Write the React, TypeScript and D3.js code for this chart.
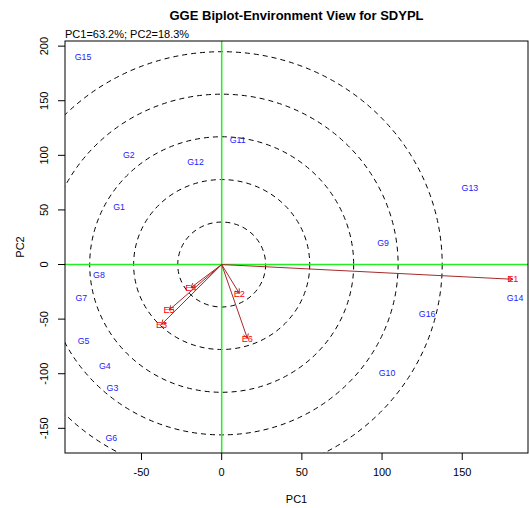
import React from "react";
import * as d3 from "d3";

const title = "GGE Biplot-Environment View for SDYPL";
const subtitle = "PC1=63.2%; PC2=18.3%";

const genotypes = ["G1","G2","G3","G4","G5","G6","G7","G8","G9","G10","G11","G12","G13","G14","G15","G16"];
const genoPC1 = [-64, -57.9, -68.1, -72.9, -86.1, -68.8, -87.5, -76.5, 100.6, 103.1, 10, -16.3, 154.8, 182.9, -86.5, 128.1];
const genoPC2 = [52.9, 100.3, -113.4, -92.7, -70, -159.2, -31, -9.6, 19.4, -99.6, 114, 94.1, 70.3, -31, 190.3, -45.6];

const envs = ["E1","E2","E3","E4","E5","E6"];
const envPC1 = [181.5, 11, -37.5, -19.2, -32.8, 16];
const envPC2 = [-13.5, -26.4, -54.8, -21.2, -41.7, -67.6];

const ringPC1 = [27.4, 54.9, 82.3, 110.0, 137.5];
const ringPC2 = [38.9, 77.8, 117.0, 156.0, 194.9];

const xTicks = [-50, 0, 50, 100, 150];
const yTicks = [-150, -100, -50, 0, 50, 100, 150, 200];

const W = 529, H = 508;
const L = 65, R = 528, T = 41, B = 453;
const FONT = "Liberation Sans, Arial, Helvetica, sans-serif";

export default function App() {
  const x = d3.scaleLinear().domain([-97.7, 191.0]).range([L, R]);
  const y = d3.scaleLinear().domain([204.7, -172.6]).range([T, B]);

  const arrowHead = (x0: number, y0: number, x1: number, y1: number) => {
    const ang = Math.atan2(y1 - y0, x1 - x0);
    const len = 5;
    const a = Math.PI / 6;
    const p1 = [x1 - len * Math.cos(ang - a), y1 - len * Math.sin(ang - a)];
    const p2 = [x1 - len * Math.cos(ang + a), y1 - len * Math.sin(ang + a)];
    return `M${p1[0]},${p1[1]}L${x1},${y1}L${p2[0]},${p2[1]}`;
  };

  return (
    <svg width={W} height={H} style={{ position: "absolute", left: 0, top: 0, background: "#fff" }} fontFamily={FONT}>
      <defs>
        <clipPath id="plotclip">
          <rect x={L} y={T} width={R - L} height={B - T} />
        </clipPath>
      </defs>
      <text x={(L + R) / 2} y={20} textAnchor="middle" fontSize={13} fontWeight="bold">{title}</text>
      <text x={L} y={38} fontSize={11}>{subtitle}</text>

      <g clipPath="url(#plotclip)">
        {ringPC1.map((r, i) => (
          <ellipse key={i} cx={x(0)} cy={y(0)} rx={x(r) - x(0)} ry={y(0) - y(ringPC2[i])}
            fill="none" stroke="#000" strokeWidth={1} strokeDasharray="5,4" />
        ))}
        <line x1={L} x2={R} y1={y(0)} y2={y(0)} stroke="#22ee22" strokeWidth={1.5} />
        <line x1={x(0)} x2={x(0)} y1={T} y2={B} stroke="#22ee22" strokeWidth={1.5} />

        {envs.map((e, i) => {
          const x1 = x(envPC1[i]), y1 = y(envPC2[i]);
          return (
            <g key={e}>
              <line x1={x(0)} y1={y(0)} x2={x1} y2={y1} stroke="#a52a2a" strokeWidth={1} />
              <path d={arrowHead(x(0), y(0), x1, y1)} fill="none" stroke="#a52a2a" strokeWidth={1} />
            </g>
          );
        })}

        {genotypes.map((g, i) => (
          <text key={g} x={x(genoPC1[i])} y={y(genoPC2[i])} dy="0.35em" textAnchor="middle" fontSize={8.8} fill="#2222ff">{g}</text>
        ))}
        {envs.map((e, i) => (
          <text key={e} x={x(envPC1[i])} y={y(envPC2[i])} dy="0.35em" textAnchor="middle" fontSize={9.2} fill="#ff0000">{e}</text>
        ))}
      </g>

      <rect x={L} y={T} width={R - L} height={B - T} fill="none" stroke="#000" strokeWidth={1} />

      {xTicks.map((t) => (
        <g key={t}>
          <line x1={x(t)} x2={x(t)} y1={B} y2={B + 7} stroke="#000" />
          <text x={x(t)} y={B + 23} textAnchor="middle" fontSize={11}>{t}</text>
        </g>
      ))}
      {yTicks.map((t) => (
        <g key={t}>
          <line x1={L - 7} x2={L} y1={y(t)} y2={y(t)} stroke="#000" />
          <text transform={`translate(${L - 17},${y(t)}) rotate(-90)`} textAnchor="middle" fontSize={11}>{t}</text>
        </g>
      ))}
      <text x={(L + R) / 2} y={503} textAnchor="middle" fontSize={11}>PC1</text>
      <text transform={`translate(24,${(T + B) / 2}) rotate(-90)`} textAnchor="middle" fontSize={11}>PC2</text>
    </svg>
  );
}
